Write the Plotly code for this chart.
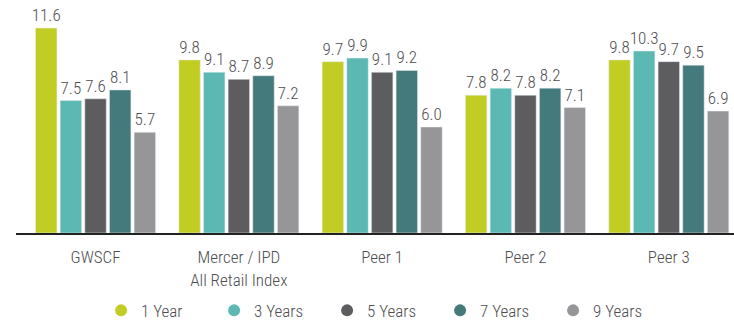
import plotly.graph_objects as go

categories = ["GWSCF", "Mercer / IPD<br>All Retail Index", "Peer 1", "Peer 2", "Peer 3"]
series_names = ["1 Year", "3 Years", "5 Years", "7 Years", "9 Years"]
one_year = [11.6, 9.8, 9.7, 7.8, 9.8]
three_years = [7.5, 9.1, 9.9, 8.2, 10.3]
five_years = [7.6, 8.7, 9.1, 7.8, 9.7]
seven_years = [8.1, 8.9, 9.2, 8.2, 9.5]
nine_years = [5.7, 7.2, 6.0, 7.1, 6.9]
colors = ["#c2cd23", "#5bb8b2", "#5d5d5f", "#447a7b", "#969699"]

FONT = "Roboto Condensed, DejaVu Sans Condensed, sans-serif"
TEXT_COLOR = "#4d4d4f"
series = [one_year, three_years, five_years, seven_years, nine_years]

fig = go.Figure()
for name, vals, col in zip(series_names, series, colors):
    fig.add_trace(go.Bar(
        x=categories, y=vals, name=name, marker_color=col,
        text=[f"{v:.1f}" for v in vals], textposition="outside",
        constraintext="none",
        textfont=dict(family=FONT, size=17, color=TEXT_COLOR, weight=300),
        cliponaxis=False, showlegend=False,
    ))
# circular legend markers
for name, col in zip(series_names, colors):
    fig.add_trace(go.Scatter(
        x=[None], y=[None], mode="markers", name=name,
        marker=dict(symbol="circle", size=14, color=col),
    ))

fig.update_layout(
    width=734, height=321,
    margin=dict(l=16, r=0, t=0, b=88, autoexpand=False),
    paper_bgcolor="white", plot_bgcolor="white",
    barmode="group", bargap=0.14, bargroupgap=0.13,
    font=dict(family=FONT, size=17, color=TEXT_COLOR, weight=300),
    xaxis=dict(range=[-0.555, 4.455], showgrid=False, showline=True,
               linecolor="#222", linewidth=2, ticks="", ticklabelstandoff=8,
               tickfont=dict(family=FONT, size=17, color=TEXT_COLOR, weight=300)),
    yaxis=dict(range=[0, 13.19], showgrid=False, showticklabels=False,
               zeroline=False, showline=False),
    legend=dict(orientation="h", x=0.512, xanchor="center", y=-0.334, yanchor="middle",
                font=dict(family=FONT, size=17, color=TEXT_COLOR, weight=300),
                entrywidth=68, itemsizing="constant", traceorder="normal"),
    showlegend=True,
)
fig.write_html("out.html")
